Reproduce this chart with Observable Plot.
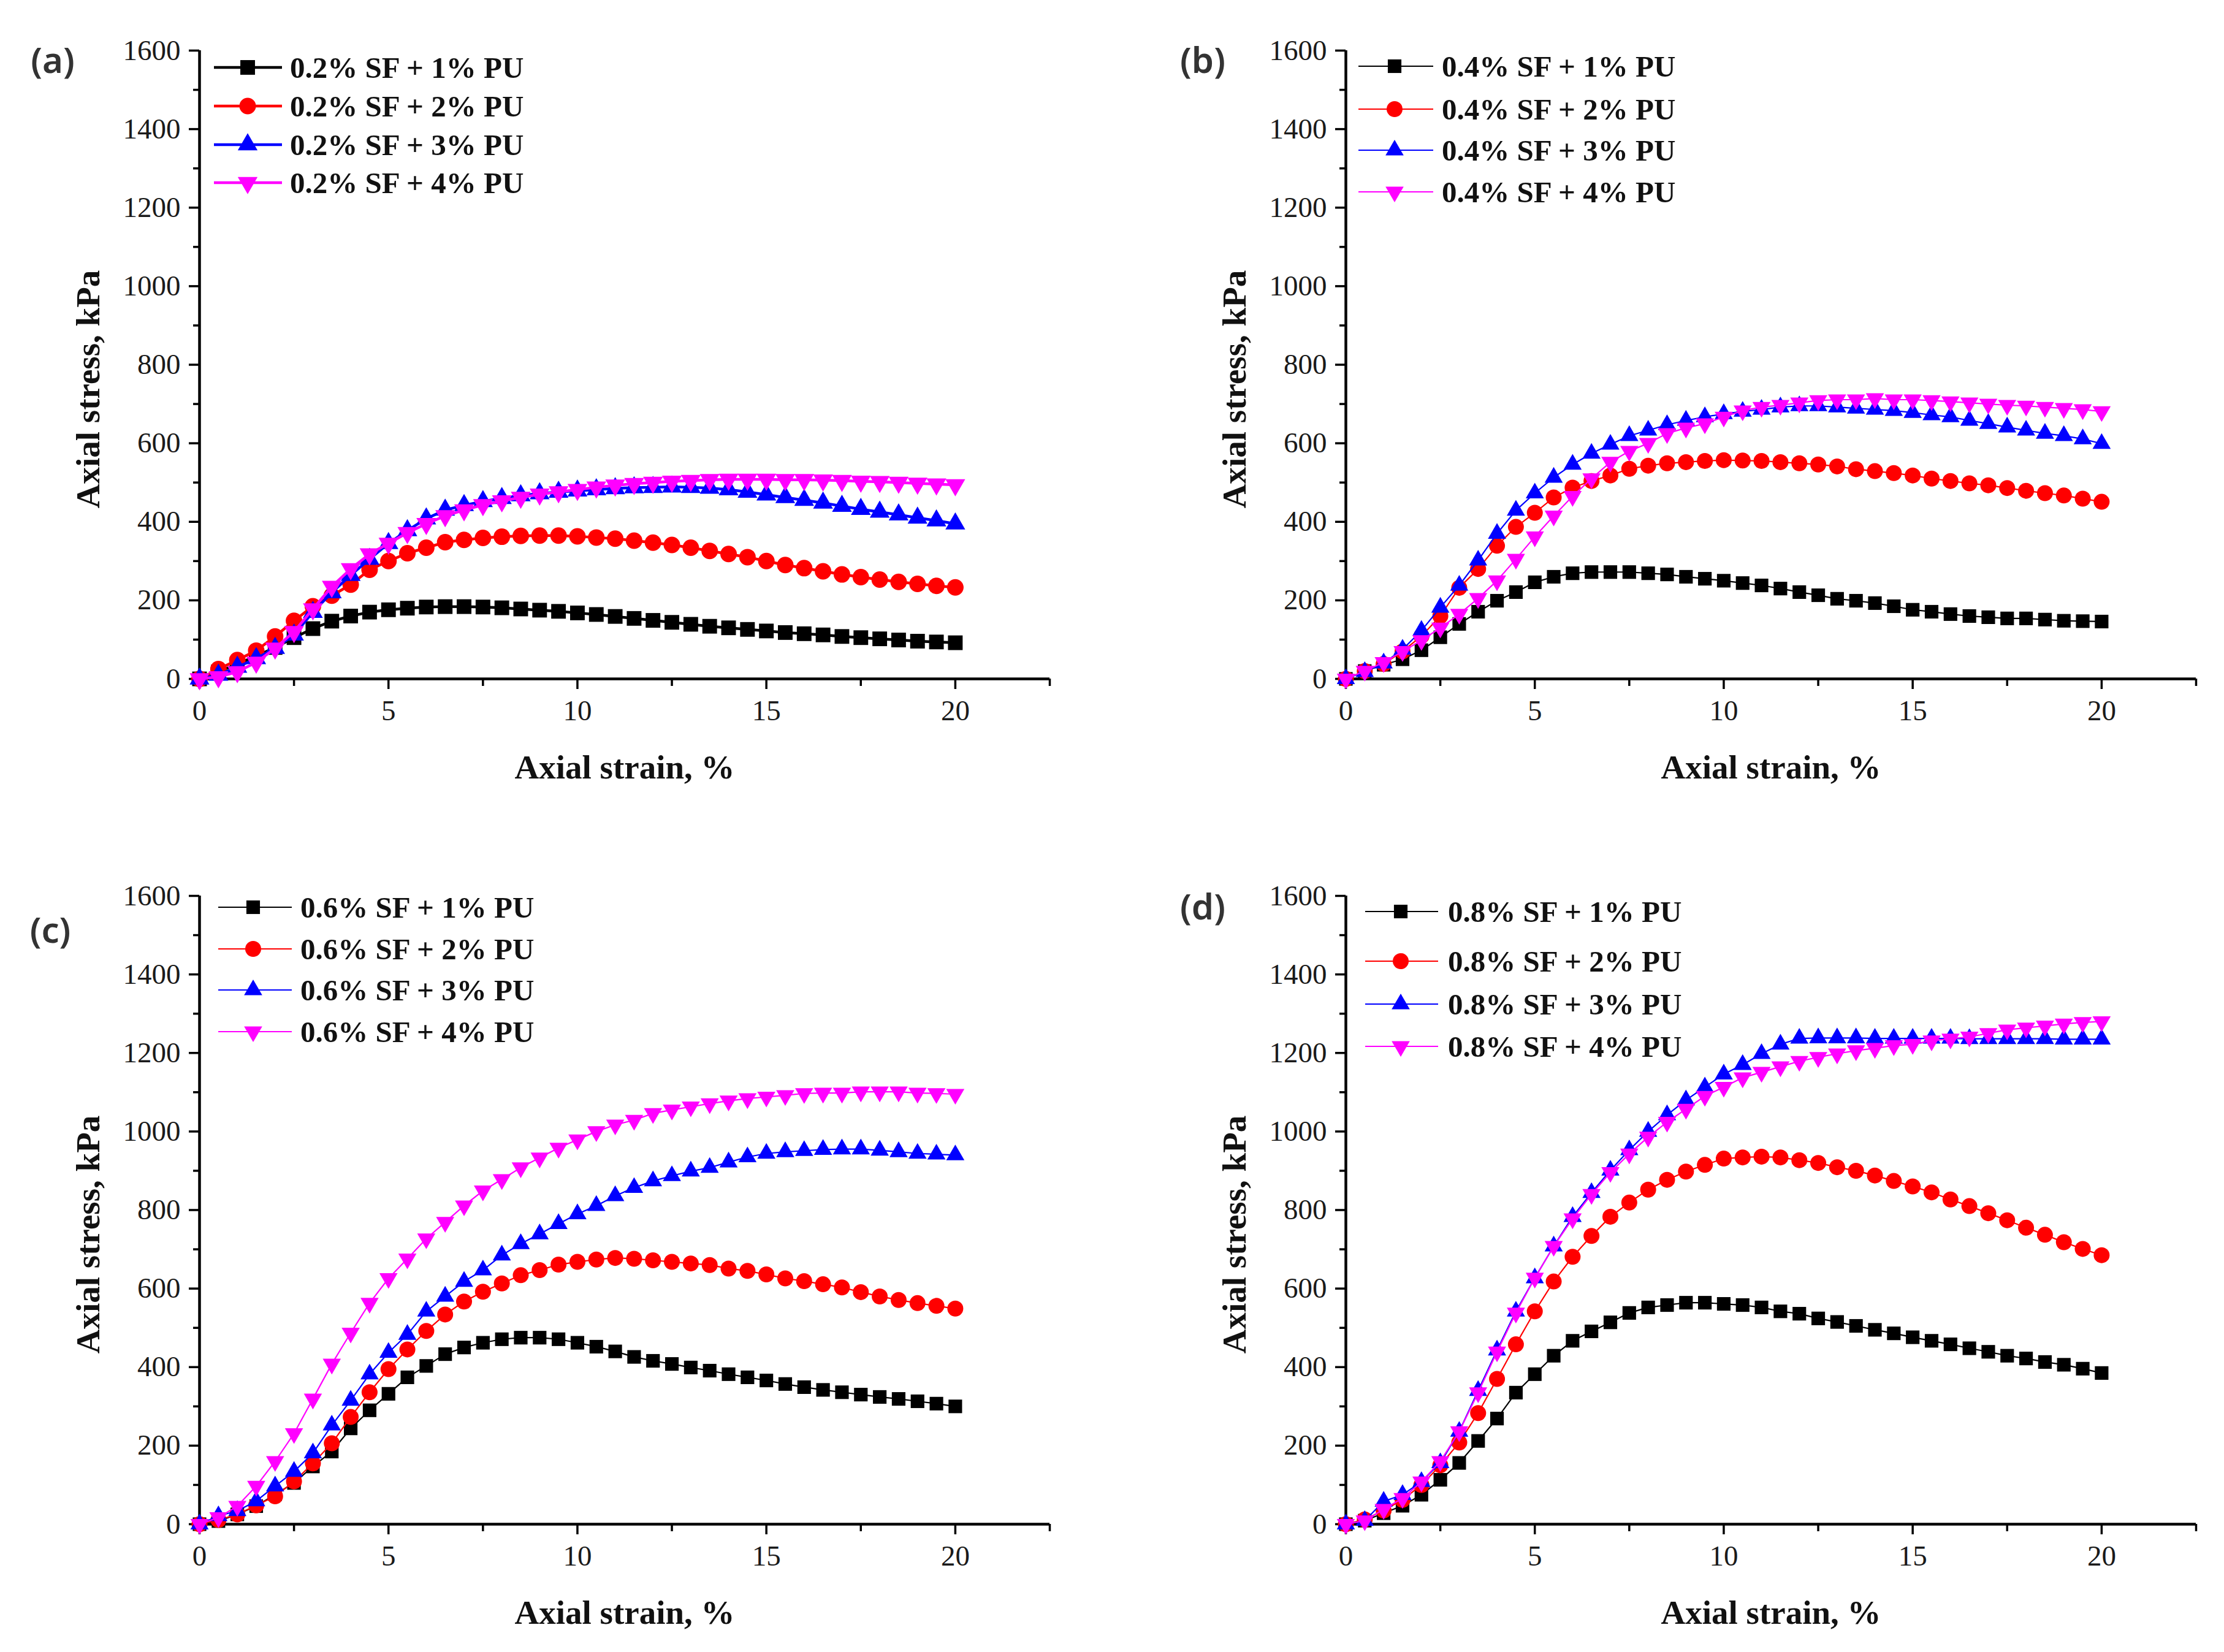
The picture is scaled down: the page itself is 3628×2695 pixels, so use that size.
<!DOCTYPE html>
<html>
<head>
<meta charset="utf-8">
<script src="https://cdn.jsdelivr.net/npm/d3@7"></script>
<script src="https://cdn.jsdelivr.net/npm/@observablehq/plot@0.6"></script>
<style>
html,body{margin:0;padding:0;background:#fff;}
#root{position:relative;width:3628px;height:2695px;overflow:hidden;background:#fff;}
.panel{position:absolute;}
.panel text{font-family:'Liberation Serif', serif !important;}
#overlay{position:absolute;left:0;top:0;pointer-events:none;}
</style>
</head>
<body>
<div id="root"></div>
<script>
// ---------------- data ----------------
const strain = [0,0.5,1,1.5,2,2.5,3,3.5,4,4.5,5,5.5,6,6.5,7,7.5,8,8.5,9,9.5,10,10.5,11,11.5,12,12.5,13,13.5,14,14.5,15,15.5,16,16.5,17,17.5,18,18.5,19,19.5,20];

const sfLevels = ["0.2", "0.4", "0.6", "0.8"];
const puLevels = ["1", "2", "3", "4"];
const panelTags = ["(a)", "(b)", "(c)", "(d)"];

// (a) 0.2% SF
const stressA1 = [0,18,38,58,80,105,128,147,160,170,176,180,183,184,184,183,181,178,175,172,168,164,159,154,149,144,139,134,130,126,122,118,115,112,108,105,102,99,96,94,92];
const stressA2 = [0,25,48,72,108,148,185,212,240,278,300,320,334,348,354,359,362,364,365,365,363,360,357,352,347,341,334,326,318,310,300,290,282,274,266,259,253,247,242,237,233];
const stressA3 = [0,10,30,52,78,112,170,220,264,305,345,378,408,430,442,452,460,467,472,476,479,482,485,487,488,489,488,486,482,476,469,462,455,448,440,432,425,418,410,403,395];
const stressA4 = [0,5,18,42,78,120,178,235,280,318,345,372,395,415,430,443,453,462,470,476,482,488,493,497,500,503,505,507,508,508,508,507,507,506,505,503,502,500,498,496,494];

// (b) 0.4% SF
const stressB1 = [0,20,36,50,73,106,140,171,199,221,246,260,269,272,272,272,269,266,260,255,250,244,238,230,221,213,204,199,193,185,176,171,165,160,157,154,154,151,148,147,146];
const stressB2 = [0,20,38,70,109,160,232,280,339,387,423,462,487,504,518,535,543,549,552,555,557,556,555,552,549,546,541,534,529,524,518,510,504,498,493,486,479,473,467,459,451];
const stressB3 = [0,18,40,75,123,182,238,302,370,429,473,513,546,574,597,619,633,647,658,667,675,681,686,692,695,695,692,689,686,683,678,672,667,658,650,641,633,625,619,611,599];
const stressB4 = [0,20,42,70,98,130,165,205,250,305,362,415,465,510,552,580,600,625,639,650,667,683,692,697,703,709,711,711,714,711,711,709,706,703,700,697,695,692,689,686,681];

// (c) 0.6% SF
const stressC1 = [0,8,25,46,76,105,147,185,244,290,332,374,403,433,450,462,471,475,475,471,462,452,440,426,416,408,399,391,382,374,366,357,349,342,336,330,324,319,313,307,300];
const stressC2 = [0,11,25,48,71,109,155,206,273,336,395,445,492,534,567,592,613,634,647,661,668,674,678,676,672,668,664,660,651,645,636,626,619,611,603,591,580,571,563,556,549];
const stressC3 = [0,21,34,59,97,134,181,252,315,382,437,483,542,580,618,647,685,714,739,765,790,811,836,857,874,887,899,908,922,935,944,948,951,954,955,955,952,948,944,942,940];
const stressC4 = [0,17,46,97,160,231,319,408,487,563,626,676,727,769,811,849,878,908,933,958,979,1000,1017,1029,1046,1055,1063,1071,1078,1084,1088,1092,1097,1098,1098,1101,1101,1101,1098,1097,1095];

// (d) 0.8% SF
const stressD1 = [0,9,28,47,75,113,156,212,269,335,382,429,467,491,514,538,552,558,564,564,561,558,552,542,536,524,515,505,495,486,476,467,458,448,439,429,422,413,406,396,385];
const stressD2 = [0,12,35,62,100,150,208,283,370,458,542,618,681,734,783,819,852,877,898,915,931,934,936,934,927,920,909,900,888,874,860,845,827,810,792,774,755,737,718,701,685];
const stressD3 = [0,9,58,75,108,156,236,340,443,542,627,708,783,844,901,953,1000,1042,1080,1113,1146,1170,1198,1222,1237,1238,1238,1238,1237,1237,1237,1237,1237,1236,1236,1236,1236,1236,1235,1235,1235];
const stressD4 = [0,9,38,66,108,160,236,335,439,538,627,708,778,840,896,943,986,1024,1057,1090,1113,1137,1151,1165,1179,1189,1198,1206,1212,1219,1222,1231,1236,1241,1250,1259,1264,1269,1274,1278,1280];

const yTicks = [0,200,400,600,800,1000,1200,1400,1600];
const yMinorTicks = [100,300,500,700,900,1100,1300,1500];
const xTicks = [0,5,10,15,20];
const xMinorTicks = [2.5,7.5,12.5,17.5,22.5];
const xTitle = "Axial strain, %";
const yTitle = "Axial stress, kPa";

// ---------------- styling / layout ----------------
const colors = ["#000000", "#ff0000", "#0000ff", "#ff00ff"];
const serif = "Liberation Serif";
const sqrt3 = Math.sqrt(3);
const triangleDown = {
  draw(context, size) {
    const y = -Math.sqrt(size / (sqrt3 * 3));
    context.moveTo(0, -y * 2);
    context.lineTo(-sqrt3 * y, y);
    context.lineTo(sqrt3 * y, y);
    context.closePath();
  }
};
const symbols = ["square", "circle", "triangle", triangleDown];
const d3symbols = [d3.symbolSquare, d3.symbolCircle, d3.symbolTriangle, triangleDown];

const panels = [
  {series: [stressA1, stressA2, stressA3, stressA4], left: 0, top: 0, width: 1814, height: 1347, ml: 325, mt: 82, mb: 240,
   lw: 4.5, radii: [13.5, 13.5, 12, 12],
   tag: [86, 96], legend: {rows: [110, 173, 236, 298], x1: 349, x2: 460, xs: 404, xt: 473}},
  {series: [stressB1, stressB2, stressB3, stressB4], left: 1814, top: 0, width: 1814, height: 1347, ml: 381, mt: 82, mb: 240,
   lw: 2.2, radii: [12.5, 13, 11, 11],
   tag: [1962, 96], legend: {rows: [108, 178, 245, 313], x1: 2216, x2: 2338, xs: 2275, xt: 2352}},
  {series: [stressC1, stressC2, stressC3, stressC4], left: 0, top: 1347, width: 1814, height: 1348, ml: 325, mt: 114, mb: 209,
   lw: 2.2, radii: [12.5, 13, 11, 11],
   tag: [82, 1515], legend: {rows: [1480, 1548, 1615, 1683], x1: 356, x2: 476, xs: 413, xt: 490}},
  {series: [stressD1, stressD2, stressD3, stressD4], left: 1814, top: 1347, width: 1814, height: 1348, ml: 381, mt: 114, mb: 209,
   lw: 2.2, radii: [12.5, 13, 11, 11],
   tag: [1962, 1477], legend: {rows: [1487, 1568, 1638, 1707], x1: 2227, x2: 2346, xs: 2285, xt: 2362}}
];

const root = document.getElementById("root");

panels.forEach((p, pi) => {
  const plotW = 1387; // frame width in px (0..22.5 %)
  const mr = p.width - p.ml - plotW;
  const marks = [];
  // axes ticks
  marks.push(Plot.axisY({ticks: yMinorTicks, tickSize: 10, tickFormat: () => "", strokeWidth: 3.5, label: null}));
  marks.push(Plot.axisY({ticks: yTicks, tickSize: 17, tickPadding: 14, tickFormat: d => String(d), strokeWidth: 3.5, label: null,
    fill: "#1a1a1a", fontFamily: serif, fontSize: 47, fontVariant: "normal"}));
  marks.push(Plot.axisX({ticks: xMinorTicks, tickSize: 12, tickFormat: () => "", strokeWidth: 3.5, label: null}));
  marks.push(Plot.axisX({ticks: xTicks, tickSize: 17, tickPadding: 17, tickFormat: d => String(d), strokeWidth: 3.5, label: null,
    fill: "#1a1a1a", fontFamily: serif, fontSize: 47, fontVariant: "normal"}));
  // axis lines
  marks.push(Plot.ruleX([0], {stroke: "#000", strokeWidth: 4.5}));
  marks.push(Plot.ruleY([0], {stroke: "#000", strokeWidth: 4.5}));
  // titles
  marks.push(Plot.text([yTitle], {text: d => d, frameAnchor: "left", textAnchor: "middle", lineAnchor: "middle", dx: -181, dy: 40, rotate: -90,
    fontFamily: serif, fontSize: 55, fontWeight: "bold", fill: "#111"}));
  marks.push(Plot.text([xTitle], {text: d => d, frameAnchor: "bottom", textAnchor: "middle", lineAnchor: "middle", dy: 145,
    fontFamily: serif, fontSize: 55, fontWeight: "bold", fill: "#111"}));
  // series
  p.series.forEach((vals, i) => {
    const rows = vals.map((v, j) => ({strain: strain[j], stress: v}));
    marks.push(Plot.line(rows, {x: "strain", y: "stress", stroke: colors[i], strokeWidth: p.lw}));
    marks.push(Plot.dot(rows, {x: "strain", y: "stress", fill: colors[i], symbol: symbols[i], r: p.radii[i], stroke: "none"}));
  });

  const chart = Plot.plot({
    width: p.width,
    height: p.height,
    marginLeft: p.ml,
    marginRight: mr,
    marginTop: p.mt,
    marginBottom: p.mb,
    x: {domain: [0, 22.5]},
    y: {domain: [0, 1600]},
    style: {fontFamily: serif, fontSize: "47px", background: "transparent", overflow: "visible", color: "#000"},
    marks
  });
  chart.classList.add("panel");
  chart.style.left = p.left + "px";
  chart.style.top = p.top + "px";
  chart.querySelectorAll("text").forEach(t => t.setAttribute("font-family", serif));
  root.appendChild(chart);
});

// ---------------- legends & panel tags (overlay) ----------------
const overlay = d3.create("svg")
  .attr("id", "overlay")
  .attr("width", 3628)
  .attr("height", 2695)
  .attr("viewBox", "0 0 3628 2695");

panels.forEach((p, pi) => {
  const g = overlay.append("g");
  g.append("text")
    .attr("x", p.tag[0]).attr("y", p.tag[1])
    .attr("text-anchor", "middle").attr("dominant-baseline", "central")
    .attr("font-family", "Noto Sans")
    .attr("font-size", 58).attr("font-weight", 600).attr("fill", "#333")
    .text(panelTags[pi]);
  const L = p.legend;
  puLevels.forEach((pu, i) => {
    const y = L.rows[i];
    g.append("line").attr("x1", L.x1).attr("x2", L.x2).attr("y1", y).attr("y2", y)
      .attr("stroke", colors[i]).attr("stroke-width", p.lw);
    const r = p.radii[i];
    g.append("path")
      .attr("d", d3.symbol(d3symbols[i], Math.PI * r * r)())
      .attr("transform", `translate(${L.xs},${y})`)
      .attr("fill", colors[i]);
    g.append("text")
      .attr("x", L.xt).attr("y", y)
      .attr("dominant-baseline", "central")
      .attr("font-family", serif).attr("font-size", 49).attr("font-weight", "bold").attr("fill", "#111")
      .text(`${sfLevels[pi]}% SF + ${pu}% PU`);
  });
});
root.appendChild(overlay.node());
</script>
</body>
</html>
